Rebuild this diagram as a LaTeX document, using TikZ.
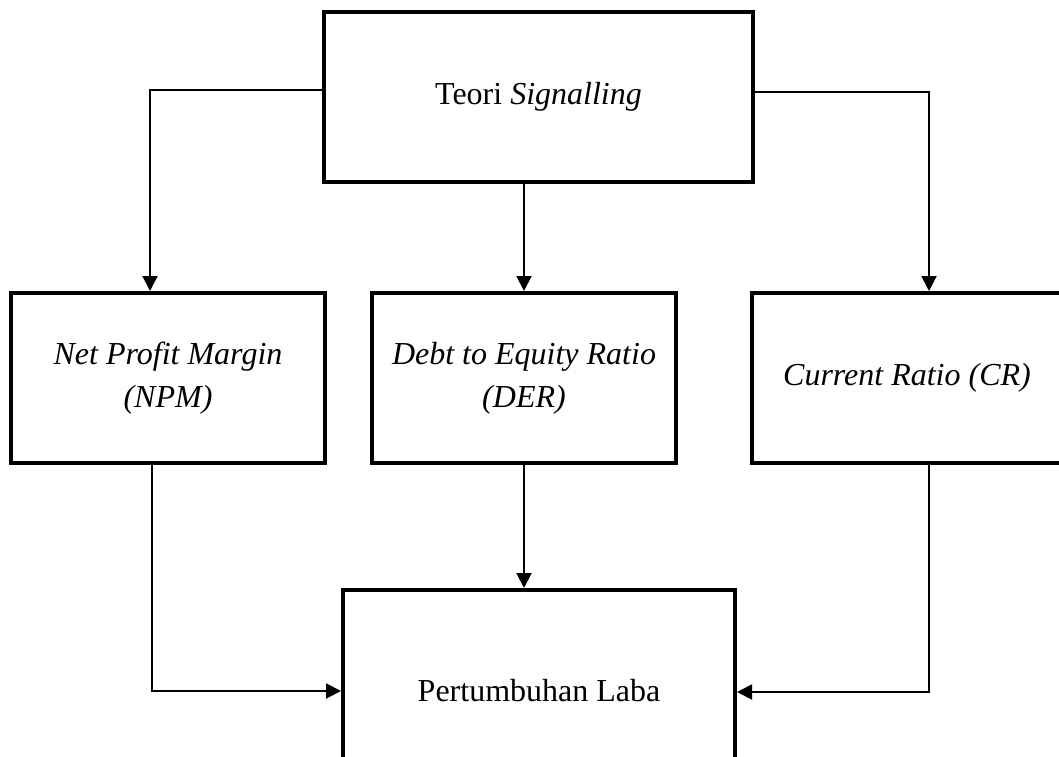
\documentclass[tikz,border=0pt]{standalone}
\usepackage{fontspec}
\setmainfont{Liberation Serif}
\usetikzlibrary{arrows.meta}
\begin{document}
\begin{tikzpicture}[x=1pt,y=-1pt,
  box/.style={draw, line width=4pt, inner sep=0pt, align=center,
    font=\fontsize{32}{43}\selectfont},
  conn/.style={line width=2pt, -{Triangle[length=15pt,width=15pt]}}]
\useasboundingbox (0,0) rectangle (1059,756);
\node[box, minimum width=429pt, minimum height=170pt] (top) at (538.5,97) {Teori \textit{Signalling}};
\node[box, minimum width=314pt, minimum height=170pt] (left) at (168,378) {\textit{Net Profit Margin}\\\textit{(NPM)}};
\node[box, minimum width=304pt, minimum height=170pt] (mid) at (524,378) {\textit{Debt to Equity Ratio}\\\textit{(DER)}};
\node[box, minimum width=310pt, minimum height=170pt] (right) at (907,378) {\textit{Current Ratio (CR)}};
\node[box, minimum width=392pt, minimum height=202pt] (bot) at (539,691) {Pertumbuhan Laba};
\draw[conn] (top.west |- 0,90) -| (150,0 |- left.north);
\draw[conn] (524,0 |- top.south) -- (524,0 |- mid.north);
\draw[conn] (top.east |- 0,92) -| (929,0 |- right.north);
\draw[conn] (152,0 |- left.south) |- (bot.west |- 0,691);
\draw[conn] (524,0 |- mid.south) -- (524,0 |- bot.north);
\draw[conn] (929,0 |- right.south) |- (bot.east |- 0,692);
\end{tikzpicture}
\end{document}
